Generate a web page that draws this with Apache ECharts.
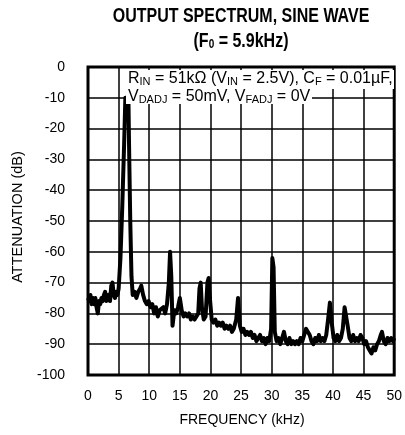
<!DOCTYPE html>
<html>
<head>
<meta charset="utf-8">
<script src="https://cdn.jsdelivr.net/npm/echarts@6/dist/echarts.min.js"></script>
<style>html,body{margin:0;padding:0;background:#fff}#c{width:405px;height:435px}</style>
</head>
<body>
<div id="c"></div>
<script>
var titleLine1 = "OUTPUT SPECTRUM, SINE WAVE";
var xTicks = [0, 5, 10, 15, 20, 25, 30, 35, 40, 45, 50];
var yTicks = [0, -10, -20, -30, -40, -50, -60, -70, -80, -90, -100];
var freq = [
0.0,0.2,0.4,0.6,0.8,1.0,1.2,1.4,1.6,1.8,2.0,2.2,2.4,2.6,2.8,3.0,3.2,3.4,3.6,3.8,4.0,4.2,4.4,4.6,4.8,5.0,
5.3,5.6,5.9,6.1,6.6,6.7,6.9,7.1,7.3,7.6,7.9,8.2,8.5,8.7,9.0,9.3,9.6,9.9,10.2,10.5,10.8,11.1,11.4,11.7,
12.0,12.3,12.6,12.9,13.2,13.4,13.6,13.8,14.1,14.4,14.7,15.0,15.3,15.6,15.9,16.2,16.5,16.8,17.1,17.4,17.7,
18.0,18.2,18.4,18.6,18.9,19.2,19.5,19.7,19.9,20.2,20.5,20.8,21.1,21.4,21.7,22.0,22.3,22.6,22.9,23.2,23.5,
23.8,24.2,24.5,24.8,25.1,25.4,25.7,26.0,26.3,26.6,26.9,27.2,27.5,27.8,28.1,28.4,28.7,29.0,29.3,29.6,29.9,
30.1,30.3,30.5,30.8,31.1,31.4,31.7,32.0,32.3,32.6,32.9,33.2,33.5,33.8,34.1,34.4,34.7,35.0,35.3,35.6,35.9,
36.2,36.5,36.8,37.1,37.4,37.7,38.0,38.3,38.6,38.9,39.2,39.5,39.8,40.1,40.4,40.7,41.0,41.3,41.6,41.9,42.1,
42.4,42.7,43.0,43.3,43.6,43.9,44.2,44.5,44.8,45.1,45.4,45.7,46.0,46.3,46.6,46.9,47.2,47.5,47.8,48.0,48.3,
48.6,48.9,49.2,49.5,49.8,50.0];
var atten = [
-75,-76,-74,-77,-75,-77,-75,-78,-80,-76,-77,-75,-76,-74,-73,-76,-75,-74,-76,-71,-70,-74,-75,-73,-74,-72,
-62,-45,-25,-10,-10,-25,-50,-68,-74,-73,-75,-73,-72,-71,-74,-76,-77,-76,-78,-77,-80,-78,-81,-79,
-79,-78,-80,-77,-70,-60,-68,-84,-79,-80,-78,-75,-79,-81,-80,-81,-80,-82,-81,-82,-81,
-80,-72,-70,-78,-82,-81,-70,-68.5,-75,-82,-83,-82,-84,-83,-84,-83,-85,-84,-85,-84,-86,
-85,-82,-75,-84,-86,-85,-87,-86,-87,-86,-88,-87,-89,-88,-87,-89,-88,-90,-88,-89,-85,
-62,-65,-86,-89,-88,-90,-88,-86,-89,-90,-88,-90,-89,-90,-89,-90,-88,-89,-87,-85,-84.5,
-87,-89,-90,-88,-89,-87,-89,-88,-89,-87,-82,-76.5,-83,-88,-89,-87,-89,-88,-85,-78,-77.5,
-84,-88,-89,-87,-89,-88,-89,-87,-88,-90,-89,-91,-92,-93,-91,-92,-90,-89,-87,-86,-89,
-90,-88,-89,-88,-89,-88];

var data = freq.map(function (f, i) { return [f, atten[i]]; });
var chart = echarts.init(document.getElementById('c'), null, {renderer: 'canvas'});
var FONT = '"Liberation Sans", Arial, sans-serif';
chart.setOption({
  animation: false,
  backgroundColor: '#fff',
  grid: {left: 88, right: 8, top: 67, bottom: 60, show: true, borderColor: '#000', borderWidth: 3, backgroundColor: 'transparent'},
  xAxis: {
    type: 'value', min: 0, max: 50, interval: 5,
    axisLine: {show: false}, axisTick: {show: false},
    splitLine: {show: true, lineStyle: {color: '#000', width: 1.5}},
    axisLabel: {margin: 14, fontSize: 14, color: '#000', fontFamily: FONT,
      formatter: function (v) { return xTicks.indexOf(v) >= 0 ? String(v) : ''; }}
  },
  yAxis: {
    type: 'value', min: -100, max: 0, interval: 10,
    axisLine: {show: false}, axisTick: {show: false},
    splitLine: {show: true, lineStyle: {color: '#000', width: 1.5}},
    axisLabel: {margin: 23, fontSize: 14, color: '#000', fontFamily: FONT,
      formatter: function (v) { return yTicks.indexOf(v) >= 0 ? String(v) : ''; }}
  },
  series: [{
    type: 'line', data: data, showSymbol: false, symbol: 'none',
    lineStyle: {color: '#000', width: 4, join: 'round'}, z: 5
  }],
  graphic: [
    {type: 'text', x: 241, y: 16, scaleY: 1.3, style: {text: titleLine1, align: 'center', verticalAlign: 'middle', font: 'bold 16px ' + FONT, fill: '#000'}},
    {type: 'text', x: 241, y: 41, scaleY: 1.3, style: {text: '(F{s|0} = 5.9kHz)', align: 'center', verticalAlign: 'middle', font: 'bold 16px ' + FONT, fill: '#000',
      rich: {s: {fontSize: 10, fontWeight: 'bold', fontFamily: FONT, padding: [5, 0, 0, 0]}}}},
    {type: 'rect', shape: {x: 126, y: 70, width: 268, height: 19}, style: {fill: '#fff'}, z: 10},
    {type: 'rect', shape: {x: 126, y: 89, width: 186, height: 15}, style: {fill: '#fff'}, z: 10},
    {type: 'text', x: 128, y: 79, z: 11, style: {text: 'R{s|IN} = 51kΩ (V{s|IN} = 2.5V), C{s|F} = 0.01µF,', verticalAlign: 'middle', font: '16px ' + FONT, fill: '#000',
      rich: {s: {fontSize: 11, fontFamily: FONT, padding: [5, 0, 0, 0]}}}},
    {type: 'text', x: 128, y: 97, z: 11, style: {text: 'V{s|DADJ} = 50mV, V{s|FADJ} = 0V', verticalAlign: 'middle', font: '16px ' + FONT, fill: '#000',
      rich: {s: {fontSize: 11, fontFamily: FONT, padding: [5, 0, 0, 0]}}}},
    {type: 'text', x: 18, y: 217, rotation: Math.PI / 2, style: {text: 'ATTENUATION (dB)', align: 'center', verticalAlign: 'middle', font: '14.5px ' + FONT, fill: '#000'}},
    {type: 'text', x: 242, y: 420, style: {text: 'FREQUENCY (kHz)', align: 'center', verticalAlign: 'middle', font: '14px ' + FONT, fill: '#000'}}
  ]
});
</script>
</body>
</html>
